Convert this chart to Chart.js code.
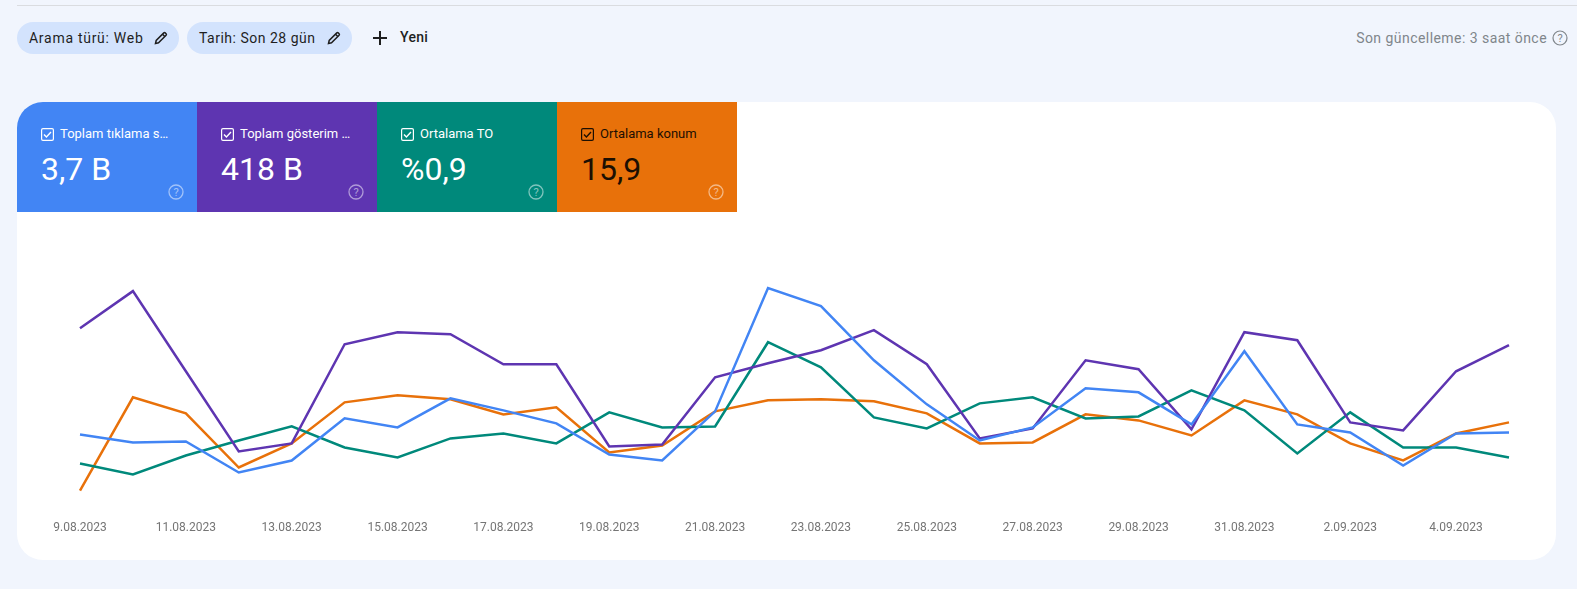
<!DOCTYPE html>
<html lang="tr">
<head>
<meta charset="utf-8">
<title>Performans</title>
<script src="https://cdn.jsdelivr.net/npm/chart.js@4"></script>
<style>
  html, body { margin: 0; padding: 0; }
  body { width: 1577px; height: 589px; background: #f1f5fd; font-family: Roboto, sans-serif; position: relative; overflow: hidden; }
  .rule { position: absolute; left: 17px; right: 0; top: 5px; height: 1px; background: #dadce0; }
  .chip { position: absolute; top: 22px; height: 32px; border-radius: 16px; background: #d3e3fd; color: #1f1f1f; font-size: 14px; line-height: 32px; padding-left: 12px; box-sizing: border-box; }
  .chip svg { position: absolute; top: 8px; right: 10px; }
  .new { position: absolute; left: 400px; top: 28px; font-size: 14px; font-weight: 500; line-height: 18px; color: #1f1f1f; letter-spacing: .3px; }
  .plus { position: absolute; left: 371px; top: 29px; }
  .updated { position: absolute; right: 30px; top: 28px; font-size: 14px; line-height: 20px; color: #80868b; letter-spacing: .45px; }
  .help-top { position: absolute; left: 1552px; top: 30px; }
  .panel { position: absolute; left: 17px; top: 102px; width: 1539px; height: 458px; background: #fff; border-radius: 26px; overflow: hidden; }
  .card { position: absolute; top: 0; width: 180px; height: 110px; color: #fff; }
  .card .box { position: absolute; left: 24px; top: 26px; }
  .card .name { position: absolute; left: 43px; top: 24px; width: 112px; font-size: 13px; line-height: 16px; white-space: nowrap; overflow: hidden; text-overflow: ellipsis; }
  .card .val { position: absolute; left: 24px; top: 47px; font-size: 32px; line-height: 40px; }
  .card .q { position: absolute; left: 151px; top: 82px; opacity: .5; }
  #chartWrap { position: absolute; left: 0; top: 110px; width: 1539px; height: 348px; }
</style>
</head>
<body>
<div class="rule"></div>
<div class="chip" style="left:17px;width:162px;letter-spacing:.72px">Arama türü: Web
  <svg width="16" height="16" viewBox="0 0 16 16"><path d="M2.500 13.500l.7-3L10.800 2.900a1 1 0 0 1 1.400 0l.9.9a1 1 0 0 1 0 1.400L5.500 12.800z" fill="none" stroke="#1f1f1f" stroke-width="1.500"/><path d="M9.500 4.200l2.300 2.300" stroke="#1f1f1f" stroke-width="1.500"/></svg>
</div>
<div class="chip" style="left:187px;width:165px;letter-spacing:.5px">Tarih: Son 28 gün
  <svg width="16" height="16" viewBox="0 0 16 16"><path d="M2.500 13.500l.7-3L10.800 2.900a1 1 0 0 1 1.400 0l.9.9a1 1 0 0 1 0 1.400L5.500 12.800z" fill="none" stroke="#1f1f1f" stroke-width="1.500"/><path d="M9.500 4.200l2.300 2.300" stroke="#1f1f1f" stroke-width="1.500"/></svg>
</div>
<svg class="plus" width="18" height="18" viewBox="0 0 18 18"><path d="M9 2v14M2 9h14" stroke="#1f1f1f" stroke-width="2"/></svg>
<div class="new">Yeni</div>
<div class="updated">Son güncelleme: 3 saat önce</div>
<svg class="help-top" width="16" height="16" viewBox="0 0 16 16"><circle cx="8" cy="8" r="7" fill="none" stroke="#80868b" stroke-width="1.200"/><text x="8" y="12" font-size="11" font-family="Roboto" text-anchor="middle" fill="#80868b">?</text></svg>

<div class="panel">
  <div id="chartWrap"><canvas id="perfChart" width="1539" height="348"></canvas></div>
  <div id="cards"></div>
</div>

<script>
const dates = ['9.08.2023','10.08.2023','11.08.2023','12.08.2023','13.08.2023','14.08.2023','15.08.2023','16.08.2023','17.08.2023','18.08.2023','19.08.2023','20.08.2023','21.08.2023','22.08.2023','23.08.2023','24.08.2023','25.08.2023','26.08.2023','27.08.2023','28.08.2023','29.08.2023','30.08.2023','31.08.2023','1.09.2023','2.09.2023','3.09.2023','4.09.2023','5.09.2023'];

// each metric has its own hidden scale in the original, here they share one index
const clicks = [78,70,71,40,52,94,85,114,102,89,58,52,101,224,206,152,108,72,85,124,120,88,161,88,80,47,79,80];
const impressions = [184,221,141,61,69,168,180,178,148,148,66,68,135,149,162,182,148,74,84,152,143,83,180,172,90,82,141,167];
const ctr = [49,38,57,72,86,65,55,74,79,69,100,85,86,170,145,95,84,109,115,94,96,122,102,59,100,65,65,55];
const position = [22,115,99,45,69,110,117,113,98,105,60,67,101,112,113,111,99,69,70,98,92,77,112,98,69,52,79,90];

const metricNames = ['Toplam tıklama sayısı', 'Toplam gösterim sayısı', 'Ortalama TO', 'Ortalama konum'];
const metricTotals = ['3,7 B', '418 B', '%0,9', '15,9'];
const metricColors = ['#4285f4', '#5e35b1', '#00897b', '#e8710a'];

const cards = document.getElementById('cards');
metricNames.forEach((name, i) => {
  const ink = i === 3 ? '#1c0f02' : '#fff';
  const card = document.createElement('div');
  card.className = 'card';
  card.style.left = (i * 180) + 'px';
  card.style.background = metricColors[i];
  card.style.color = ink;
  card.innerHTML =
    '<svg class="box" width="13" height="13" viewBox="0 0 13 13"><rect x=".6" y=".6" width="11.800" height="11.800" rx="1.400" fill="none" stroke="' + ink + '" stroke-width="1.200"/><path d="M3 6.500l2.400 2.400 4.600-4.800" fill="none" stroke="' + ink + '" stroke-width="1.400"/></svg>' +
    '<div class="name">' + name + '</div>' +
    '<div class="val">' + metricTotals[i] + '</div>' +
    '<svg class="q" width="16" height="16" viewBox="0 0 16 16"><circle cx="8" cy="8" r="7" fill="none" stroke="#fff" stroke-width="1.300"/><text x="8" y="12" font-size="11" font-family="Roboto" text-anchor="middle" fill="#fff">?</text></svg>';
  cards.appendChild(card);
});

const series = [clicks, impressions, ctr, position];

new Chart(document.getElementById('perfChart'), {
  type: 'line',
  data: {
    labels: dates,
    datasets: series.map((values, i) => ({
      label: metricNames[i],
      data: values,
      borderColor: metricColors[i],
      borderWidth: 2.5,
      pointRadius: 0,
      tension: 0,
      order: i // blue ends up on top
    }))
  },
  options: {
    responsive: false,
    animation: false,
    layout: { padding: { left: 63, right: 47, top: 30, bottom: 17 } },
    plugins: { legend: { display: false }, tooltip: { enabled: false } },
    scales: {
      x: {
        offset: false,
        grid: { display: false, drawTicks: false },
        border: { display: false },
        ticks: {
          autoSkip: false,
          maxRotation: 0,
          padding: 8,
          color: '#757575',
          font: { family: 'Roboto', size: 12 },
          callback: function (value, index) {
            return index % 2 === 0 ? dates[index] : '';
          }
        }
      },
      y: { display: false, min: 0, max: 270 }
    }
  }
});
</script>
</body>
</html>
